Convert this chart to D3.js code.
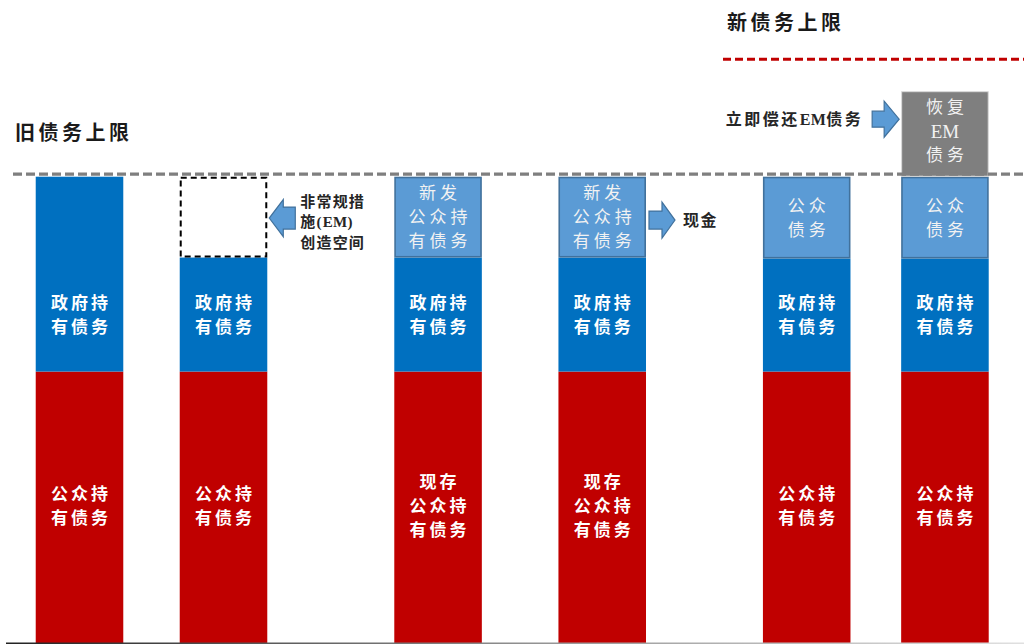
<!DOCTYPE html>
<html>
<head>
<meta charset="utf-8">
<script src="https://cdn.jsdelivr.net/npm/d3@7"></script>
<style>
  html, body { margin: 0; padding: 0; background: #fff; }
  svg { display: block; }
</style>
</head>
<body>
<svg id="chart" width="1024" height="644"></svg>
<script>
// Stages of the debt-ceiling process, left to right
const stages = ["原上限", "非常规措施", "发行新债", "新债换现金", "上调上限", "偿还EM"];

// Debt stacks per stage (old ceiling = 100)
const publicHeld = [58.3, 58.3, 58.3, 58.3, 58.3, 58.3];
const govHeld    = [41.7, 24.4, 24.4, 24.4, 24.2, 24.2];
const emRoom     = [0, 17.3, 0, 0, 0, 0];          // room freed by extraordinary measures
const newPublic  = [0, 0, 17.3, 17.3, 17.5, 17.5];  // newly issued public debt
const emRestored = [0, 0, 0, 0, 0, 18.3];           // EM debt restored

const oldCap = 100;
const newCap = 124.6;

// Labels per segment
const publicLabel = [
  ["公众持", "有债务"], ["公众持", "有债务"],
  ["现存", "公众持", "有债务"], ["现存", "公众持", "有债务"],
  ["公众持", "有债务"], ["公众持", "有债务"]
];
const govLabel = stages.map(() => ["政府持", "有债务"]);
const newLabel = [null, null, ["新发", "公众持", "有债务"], ["新发", "公众持", "有债务"], ["公众", "债务"], ["公众", "债务"]];
const emLabel  = [null, null, null, null, null, ["恢复", "EM", "债务"]];

const oldCapLabel = "旧债务上限";
const newCapLabel = "新债务上限";
const emNote = ["非常规措", "施(EM)", "创造空间"];
const cashNote = "现金";
const repayNote = "立即偿还EM债务";

// ---- layout ----
const W = 1024, H = 644;
const colSlot = [0, 1, 2.49, 3.63, 5.05, 6.01];   // horizontal slots, wider gaps hold notes
const x = d3.scaleLinear().domain([0, 1]).range([79.5, 223.5]);
const y = d3.scaleLinear().domain([0, 100]).range([644, 176.7]);
const barW = x(0.608) - x(0);

const FONT = "'Liberation Serif', 'Noto Sans CJK SC', serif";
const C = {
  red: "#c00000", blue: "#0070c0", light: "#5b9bd5", lightEdge: "#41719c",
  gray: "#7f7f7f", text: "#262626"
};

const svg = d3.select("#chart");

// Stack segments for every stage
const segs = [];
stages.forEach((s, i) => {
  let base = 0;
  const add = (v, kind, lines) => {
    if (v > 0) segs.push({ i, kind, y0: base, y1: base + v, lines });
    base += v;
  };
  add(publicHeld[i], "public", publicLabel[i]);
  add(govHeld[i], "gov", govLabel[i]);
  add(emRoom[i], "room", null);
  add(newPublic[i], "new", newLabel[i]);
  add(emRestored[i], "em", emLabel[i]);
});

const left = i => x(colSlot[i]) - barW / 2;
const right = i => x(colSlot[i]) + barW / 2;

const style = {
  public: { fill: C.red, stroke: "none", sw: 0 },
  gov:    { fill: C.blue, stroke: "none", sw: 0 },
  room:   { fill: "none", stroke: "#000", sw: 2, dash: "6,4" },
  new:    { fill: C.light, stroke: C.lightEdge, sw: 1.6 },
  em:     { fill: C.gray, stroke: "#d9d9d9", sw: 1 }
};

svg.append("g").selectAll("rect").data(segs).join("rect")
  .attr("x", d => left(d.i) + style[d.kind].sw / 2)
  .attr("y", d => y(d.y1) + style[d.kind].sw / 2)
  .attr("width", d => barW - style[d.kind].sw)
  .attr("height", d => y(d.y0) - y(d.y1) - style[d.kind].sw)
  .attr("fill", d => style[d.kind].fill)
  .attr("stroke", d => style[d.kind].stroke)
  .attr("stroke-width", d => style[d.kind].sw)
  .attr("stroke-dasharray", d => style[d.kind].dash || null);

// Segment labels; Latin-only lines are set without extra tracking
function lines(g, arr, cx, cy, opt) {
  const lh = opt.lh || 24;
  const ls = opt.ls == null ? 3 : opt.ls;
  const t = g.append("text")
    .attr("text-anchor", "middle")
    .attr("font-family", FONT)
    .attr("font-size", opt.size || 17)
    .attr("font-weight", opt.weight || 700)
    .attr("fill", opt.fill || "#fff");
  arr.forEach((s, k) => {
    const latin = /^[A-Za-z]+$/.test(s);
    t.append("tspan")
      .attr("x", cx + (latin ? 0 : ls / 2))
      .attr("y", cy + (k - (arr.length - 1) / 2) * lh)
      .attr("dy", "0.36em")
      .attr("letter-spacing", latin ? 0 : ls)
      .attr("font-size", latin ? 19 : null)
      .text(s);
  });
  return t;
}

const gLab = svg.append("g");
segs.filter(d => d.lines).forEach(d => {
  // the government-held label sits in the band shared by all later stages
  const top = d.kind === "gov" ? d.y0 + Math.min(d.y1 - d.y0, govHeld[govHeld.length - 1]) : d.y1;
  const cy = (y(d.y0) + y(top)) / 2 + (d.kind === "em" ? -3 : d.kind === "public" ? -2 : 0);
  const soft = d.kind === "new" || d.kind === "em";
  lines(gLab, d.lines, x(colSlot[d.i]), cy, {
    weight: soft ? 400 : 700,
    fill: soft ? "#f2f2f2" : "#fff",
    ls: soft ? 4 : 3
  });
});

// Ceiling lines
svg.append("line")
  .attr("x1", 13).attr("x2", W)
  .attr("y1", y(oldCap) - 2.5).attr("y2", y(oldCap) - 2.5)
  .attr("stroke", C.gray).attr("stroke-width", 3.2).attr("stroke-dasharray", "9,4");

svg.append("line")
  .attr("x1", 723).attr("x2", W)
  .attr("y1", y(newCap) - 2.5).attr("y2", y(newCap) - 2.5)
  .attr("stroke", C.red).attr("stroke-width", 3).attr("stroke-dasharray", "8,4");

// Baseline
const grad = svg.append("defs").append("linearGradient").attr("id", "base")
  .attr("x1", "0%").attr("x2", "100%");
grad.append("stop").attr("offset", "0%").attr("stop-color", "#222");
grad.append("stop").attr("offset", "55%").attr("stop-color", "#999");
grad.append("stop").attr("offset", "100%").attr("stop-color", "#e0e0e0");
svg.append("rect").attr("x", 6).attr("y", 642.5).attr("width", W - 6).attr("height", 1.5)
  .attr("fill", "url(#base)");

// Block arrows
function arrow(x0, x1, cy, head, hh, sh) {
  const dir = x1 > x0 ? 1 : -1;
  const hx = x1 - dir * head;
  const pts = [
    [x0, cy - sh / 2], [hx, cy - sh / 2], [hx, cy - hh / 2], [x1, cy],
    [hx, cy + hh / 2], [hx, cy + sh / 2], [x0, cy + sh / 2]
  ];
  svg.append("path")
    .attr("d", d3.line()(pts) + "Z")
    .attr("fill", C.light).attr("stroke", C.lightEdge).attr("stroke-width", 1.2);
}

const roomMid = (y(publicHeld[1] + govHeld[1]) + y(publicHeld[1] + govHeld[1] + emRoom[1])) / 2;
arrow(right(1) + 28, right(1) + 2, roomMid + 1, 14, 37, 22);
const newMid = (y(publicHeld[3] + govHeld[3]) + y(oldCap)) / 2;
arrow(right(3) + 3, right(3) + 29, newMid + 3, 13, 36, 18);
arrow(left(5) - 29, left(5) - 2, y(112.3), 15, 36, 16);

// Notes: CJK runs get tracking, Latin runs (EM) stay tight
const note = (txt, xx, yy, anchor, size, ls) => {
  const t = svg.append("text")
    .attr("x", xx).attr("y", yy).attr("dy", "0.36em")
    .attr("text-anchor", anchor)
    .attr("font-family", FONT).attr("font-weight", 700)
    .attr("font-size", size)
    .attr("fill", C.text);
  (txt.match(/[A-Za-z]+|[^A-Za-z]+/g) || []).forEach(run => {
    t.append("tspan")
      .attr("letter-spacing", /^[A-Za-z]+$/.test(run) ? 0.3 : ls)
      .text(run);
  });
  return t;
};

emNote.forEach((s, k) => note(s, right(1) + 33, roomMid - 16 + k * 20.5, "start", 15, 1.2));
note(cashNote, right(3) + 37, newMid + 3, "start", 16, 1.5);
note(repayNote, left(5) - 38, y(112.3), "end", 16, 2.5);

note(oldCapLabel, 15, 133, "start", 20, 3.5).attr("fill", "#1a1a1a");
note(newCapLabel, 727, 23, "start", 20, 3.5).attr("fill", "#1a1a1a");
</script>
</body>
</html>
